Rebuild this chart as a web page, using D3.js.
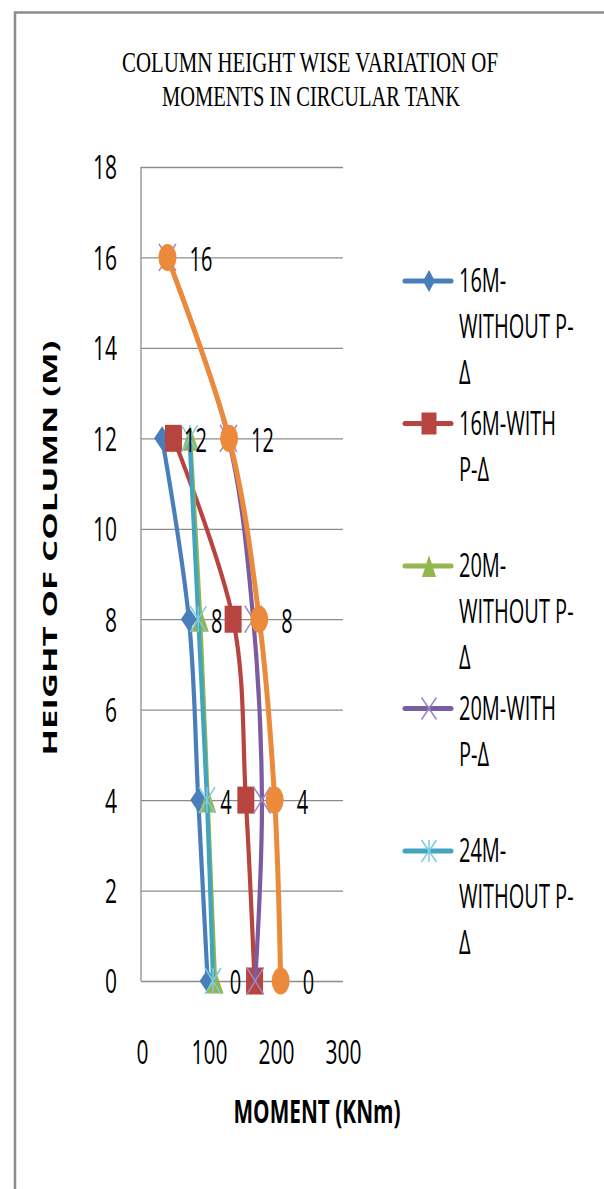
<!DOCTYPE html>
<html><head><meta charset="utf-8">
<script src="https://cdn.jsdelivr.net/npm/d3@7"></script>
<style>html,body{margin:0;padding:0;background:#fff;}svg{display:block;}</style>
</head><body>
<svg id="c" width="604" height="1189"></svg>
<script>
// ---------- data ----------
const heights = [0, 4, 8, 12, 16];
const xTicks = [0, 100, 200, 300];
const yTicks = [0, 2, 4, 6, 8, 10, 12, 14, 16, 18];
const seriesNames = ["16M-WITHOUT P-Δ", "16M-WITH P-Δ", "20M-WITHOUT P-Δ", "20M-WITH P-Δ", "24M-WITHOUT P-Δ", "24M-WITH P-Δ"];
const legendLines = [["16M-", "WITHOUT P-", "Δ"], ["16M-WITH", "P-Δ"], ["20M-", "WITHOUT P-", "Δ"], ["20M-WITH", "P-Δ"], ["24M-", "WITHOUT P-", "Δ"]];
const m16Without = [98, 84, 70, 30, null];
const m16With = [168, 155, 136, 47, null];
const m20Without = [109, 98, 87, 72, null];
const m20With = [169, 179, 166, 129, 38];
const m24Without = [106, 97, 84, 71, null];
const m24With = [207, 198, 175, 130, 38];
const seriesValues = [m16Without, m16With, m20Without, m20With, m24Without, m24With];
const colors = ["#4a7ebb", "#b8443f", "#93b650", "#7b5ca0", "#43a4bf", "#ec8a3c"];
const markers = ["diamond", "square", "triangle", "x", "star", "circle"];
const labelled = [true, false, false, false, false, true];

// ---------- layout ----------
const svg = d3.select("#c");
const x = d3.scaleLinear().domain([0, 300]).range([142, 343]);
const y = d3.scaleLinear().domain([0, 18]).range([981, 167]);
const SY = 1.6;
const FONT = "'Open Sans', 'DejaVu Sans', sans-serif";

function stext(g, px, py, str, o) {
  o = o || {};
  const t = g.append("text")
    .attr("transform", `translate(${px},${py})` + (o.rot ? ` rotate(${o.rot})` : "") + ` scale(${o.sx || 1},${o.sy || SY})`)
    .attr("x", 0).attr("y", 0)
    .attr("text-anchor", o.anchor || "start")
    .style("font-family", o.family || FONT)
    .style("font-size", (o.size || 20) + "px")
    .style("font-weight", o.weight || "normal")
    .style("fill", o.fill || "#000")
    .text(str);
  if (o.len) t.attr("textLength", o.len).attr("lengthAdjust", "spacingAndGlyphs");
  return t;
}

// chart border (top & left visible)
svg.append("path").attr("d", "M15,1189 L15,12.5 L604,12.5")
  .attr("fill", "none").attr("stroke", "#8c8c8c").attr("stroke-width", 2.5);

// title
const serif = "'Liberation Serif', 'DejaVu Serif', serif";
stext(svg, 310, 72, "COLUMN HEIGHT WISE VARIATION OF", {anchor: "middle", family: serif, size: 20, sy: 1.5, len: 376});
stext(svg, 311, 106, "MOMENTS IN CIRCULAR TANK", {anchor: "middle", family: serif, size: 20, sy: 1.5, len: 298});

// gridlines via axis
const grid = svg.append("g").attr("transform", `translate(${x(0) - 1},0)`)
  .call(d3.axisLeft(y).tickValues(yTicks).tickSize(-(x(300) - x(0) + 1)).tickFormat(""));
grid.select(".domain").remove();
grid.selectAll(".tick line").attr("stroke", "#8c8c8c").attr("stroke-width", 1.3);

// y axis line
svg.append("line").attr("x1", x(0) - 1).attr("x2", x(0) - 1).attr("y1", y(18)).attr("y2", y(0))
  .attr("stroke", "#8c8c8c").attr("stroke-width", 1.3);

// y tick labels via axis
const yAx = svg.append("g").attr("transform", `translate(117,0)`)
  .call(d3.axisLeft(y).tickValues(yTicks).tickSize(0).tickPadding(0));
yAx.select(".domain").remove();
yAx.selectAll(".tick text")
  .attr("x", 0).attr("dy", null).attr("y", 0)
  .attr("text-anchor", "end")
  .attr("transform", `translate(0,${0.714 * 21 * SY / 2}) scale(1,${SY})`)
  .style("font-family", FONT).style("font-size", "21px").style("fill", "#000");

// x tick labels via axis
const xAx = svg.append("g").attr("transform", `translate(0,1064)`)
  .call(d3.axisBottom(x).tickValues(xTicks).tickSize(0).tickPadding(0));
xAx.select(".domain").remove();
xAx.selectAll(".tick text")
  .attr("y", 0).attr("dy", null)
  .attr("transform", `scale(1,${SY})`)
  .style("font-family", FONT).style("font-size", "21px").style("fill", "#000");

// axis titles
stext(svg, 317, 1123, "MOMENT (KNm)", {anchor: "middle", weight: "bold", size: 20, len: 167});
stext(svg, 57, 548, "HEIGHT OF COLUMN (M)", {anchor: "middle", weight: "bold", size: 20, rot: -90, sy: 1, len: 415});

// markers
function markerPath(type, w, h) {
  switch (type) {
    case "diamond": return `M${-w},0 L0,${-h} L${w},0 L0,${h} Z`;
    case "square": return `M${-w},${-h} H${w} V${h} H${-w} Z`;
    case "triangle": return `M0,${-h} L${w},${h} L${-w},${h} Z`;
    case "x": return `M${-w},${-h} L${w},${h} M${w},${-h} L${-w},${h}`;
    case "star": return `M${-w},${-h} L${w},${h} M${w},${-h} L${-w},${h} M0,${-h} L0,${h}`;
    case "circle": return `M${-w},0 A${w},${h} 0 1 0 ${w},0 A${w},${h} 0 1 0 ${-w},0 Z`;
  }
}
function drawMarker(g, type, color, cx, cy, w, h) {
  const line = (type === "x" || type === "star");
  g.append("path").attr("d", markerPath(type, w, h))
    .attr("transform", `translate(${cx},${cy})`)
    .attr("fill", line ? "none" : color)
    .attr("stroke", line ? (type === "x" ? "#9c86c0" : "#7ccbe0") : "none")
    .attr("stroke-width", 1.5);
}

const lineGen = d3.line()
  .defined(d => d.v != null)
  .x(d => x(d.v)).y(d => y(d.h))
  .curve(d3.curveCatmullRom.alpha(0));

const plot = svg.append("g");
seriesValues.forEach((vals, i) => {
  const pts = heights.map((h, k) => ({h: h, v: vals[k]})).filter(d => d.v != null);
  const g = plot.append("g");
  g.append("path").datum(pts).attr("d", lineGen)
    .attr("fill", "none").attr("stroke", colors[i])
    .attr("stroke-width", i === 5 ? 5 : 4.2).attr("stroke-linecap", "round").attr("stroke-linejoin", "round");
  const sizes = {diamond: [8, 12], square: [8.5, 13.5], triangle: [8.5, 12.5], x: [8.5, 13.5], star: [8, 13], circle: [9, 13.5]};
  pts.forEach(d => {
    const s = sizes[markers[i]];
    drawMarker(g, markers[i], colors[i], x(d.v), y(d.h), s[0], s[1]);
  });
});
// data labels
seriesValues.forEach((vals, i) => {
  if (!labelled[i]) return;
  heights.forEach((h, k) => {
    if (vals[k] == null) return;
    stext(plot, x(vals[k]) + 22, y(h) + 2 + 0.714 * 20 * SY / 2, String(h), {size: 20});
  });
});

// legend
const leg = svg.append("g");
const legSizes = {diamond: [6, 11], square: [7.5, 11], triangle: [7, 11], x: [7.5, 11], star: [7.5, 11]};
legendLines.forEach((lines, i) => {
  const cy = 281 + i * 142.5;
  leg.append("line").attr("x1", 405).attr("x2", 451).attr("y1", cy).attr("y2", cy)
    .attr("stroke", colors[i]).attr("stroke-width", 5).attr("stroke-linecap", "round");
  const s = legSizes[markers[i]];
  drawMarker(leg, markers[i], colors[i], 429, cy, s[0], s[1]);
  lines.forEach((ln, j) => {
    stext(leg, 459, cy + j * 46 + 0.714 * 20 * SY / 2, ln, {size: 20});
  });
});
</script>
</body></html>
